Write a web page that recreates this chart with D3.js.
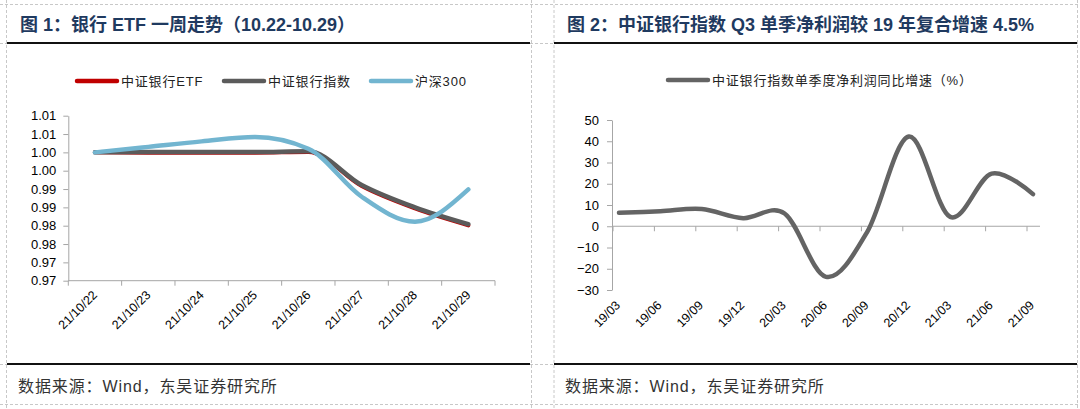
<!DOCTYPE html>
<html>
<head>
<meta charset="utf-8">
<script src="https://cdn.jsdelivr.net/npm/d3@7"></script>
<style>
body { margin: 0; background: #fff; }
text { font-family: "Liberation Sans", Arial, "Noto Sans CJK SC", sans-serif; }
</style>
</head>
<body>
<div id="graph"></div>
<script>
const w = 1080;
const h = 409;

// left chart data
const dates1 = ["21/10/22", "21/10/23", "21/10/24", "21/10/25", "21/10/26", "21/10/27", "21/10/28", "21/10/29"];
const etfValues = [1.0000, 0.9999, 0.9999, 0.9999, 1.0001, 0.9908, 0.9847, 0.9801];
const indexValues = [1.0000, 1.0001, 1.0001, 1.0001, 1.0003, 0.9911, 0.9850, 0.9804];
const hs300Values = [1.0000, 1.0015, 1.0030, 1.0042, 1.0010, 0.9879, 0.9811, 0.9899];
const yTicks1 = [1.010, 1.005, 1.000, 0.995, 0.990, 0.985, 0.980, 0.975, 0.970, 0.965];
const legend1 = ["中证银行ETF", "中证银行指数", "沪深300"];

// right chart data
const quarters = ["19/03", "19/06", "19/09", "19/12", "20/03", "20/06", "20/09", "20/12", "21/03", "21/06", "21/09"];
const profitGrowth = [6.3, 7.1, 8.1, 3.8, 6.0, -23.8, -2.5, 42.2, 4.4, 24.8, 15.1];
const yTicks2 = [50, 40, 30, 20, 10, 0, -10, -20, -30];
const legend2 = "中证银行指数单季度净利润同比增速（%）";

const titles = ["图 1：银行 ETF 一周走势（10.22-10.29）", "图 2：中证银行指数 Q3 单季净利润较 19 年复合增速 4.5%"];
const source = "数据来源：Wind，东吴证券研究所";

const axisColor = "#a6a6a6";

const svg = d3.select("#graph")
    .append("svg")
    .attr("width", w)
    .attr("height", h);

// dashed table grid
const gridH = [4, 43, 364, 404];
const gridV = [6, 531, 553.5, 1077];
gridH.forEach(function(y) {
    svg.append("line")
        .attr("x1", 0).attr("x2", w)
        .attr("y1", y + 0.5).attr("y2", y + 0.5)
        .style("stroke", "#c8c8c8")
        .style("stroke-dasharray", "3,2");
});
gridV.forEach(function(x) {
    svg.append("line")
        .attr("x1", x + 0.5).attr("x2", x + 0.5)
        .attr("y1", 0).attr("y2", h)
        .style("stroke", "#c8c8c8")
        .style("stroke-dasharray", "3,2");
});

// panel frames: title, thick rules, source
const panels = [{x0: 7, x1: 530, tx: 20}, {x0: 554, x1: 1077, tx: 567}];
panels.forEach(function(p, i) {
    svg.append("text")
        .attr("x", p.tx)
        .attr("y", 31)
        .style("font-size", "18px")
        .style("font-weight", "bold")
        .style("fill", "#1f3a60")
        .text(titles[i]);
    [43, 364].forEach(function(y) {
        svg.append("line")
            .attr("x1", p.x0).attr("x2", p.x1)
            .attr("y1", y).attr("y2", y)
            .style("stroke", "#111")
            .style("stroke-width", 2.2);
    });
    svg.append("text")
        .attr("x", p.tx - 2)
        .attr("y", 392)
        .style("font-size", "16px")
        .style("letter-spacing", "0.9px")
        .style("fill", "#333")
        .text(source);
});

// ---------- left chart ----------
const x1 = d3.scaleBand()
    .domain(dates1)
    .range([68.3, 495]);

const y1 = d3.scaleLinear()
    .domain([0.965, 1.01])
    .range([280.7, 115.7]);

// excel style rounding (half up)
const fmt1 = function(d) { return (Math.round(d * 100 + 1e-6) / 100).toFixed(2); };

svg.append("g")
    .attr("transform", "translate(68.3,0)")
    .call(d3.axisLeft(y1).tickValues(yTicks1).tickFormat(fmt1).tickSize(5).tickSizeOuter(0).tickPadding(7));

const gx1 = svg.append("g");
gx1.append("line")
    .attr("x1", x1.range()[0]).attr("x2", x1.range()[1])
    .attr("y1", y1(0.965)).attr("y2", y1(0.965))
    .style("stroke", axisColor);
gx1.selectAll(".tk")
    .data(dates1.concat(["end"]))
    .enter()
    .append("line")
    .attr("x1", function(d) { return d === "end" ? x1.range()[1] : x1(d); })
    .attr("x2", function(d) { return d === "end" ? x1.range()[1] : x1(d); })
    .attr("y1", y1(0.965))
    .attr("y2", y1(0.965) + 5)
    .style("stroke", axisColor);
gx1.selectAll(".lbl")
    .data(dates1)
    .enter()
    .append("text")
    .attr("transform", function(d) {
        return "translate(" + (x1(d) + x1.bandwidth() / 2 + 3) + "," + (y1(0.965) + 15) + ") rotate(-45)";
    })
    .style("text-anchor", "end")
    .style("font-size", "12.5px")
    .style("fill", "#000")
    .text(function(d) { return d; });

const line1 = function(values) {
    return d3.line()
        .x(function(d, i) { return x1(dates1[i]) + x1.bandwidth() / 2; })
        .y(function(d) { return y1(d); })
        .curve(d3.curveMonotoneX)(values);
};

const series1 = [
    {values: etfValues, color: "#c00000", width: 4},
    {values: indexValues, color: "#5b5b5b", width: 4.5},
    {values: hs300Values, color: "#72b5d0", width: 4.5}
];
series1.forEach(function(s) {
    svg.append("path")
        .attr("d", line1(s.values))
        .style("fill", "none")
        .style("stroke", s.color)
        .style("stroke-width", s.width)
        .style("stroke-linecap", "round");
});

// legend
const legX = [77, 224, 371];
series1.forEach(function(s, i) {
    svg.append("line")
        .attr("x1", legX[i]).attr("x2", legX[i] + 40)
        .attr("y1", 81).attr("y2", 81)
        .style("stroke", s.color)
        .style("stroke-width", 4.5)
        .style("stroke-linecap", "round");
    svg.append("text")
        .attr("x", legX[i] + 44)
        .attr("y", 85.5)
        .style("font-size", "13px")
        .style("letter-spacing", "0.8px")
        .style("fill", "#222")
        .text(legend1[i]);
});

// ---------- right chart ----------
const x2 = d3.scalePoint()
    .domain(quarters)
    .range([619, 1033]);

const y2 = d3.scaleLinear()
    .domain([-30, 50])
    .range([290, 120]);

svg.append("g")
    .attr("transform", "translate(612,0)")
    .call(d3.axisLeft(y2).tickValues(yTicks2).tickSize(5).tickSizeOuter(0).tickPadding(8));

const gx2 = svg.append("g");
gx2.append("line")
    .attr("x1", 612).attr("x2", 1040)
    .attr("y1", y2(0)).attr("y2", y2(0))
    .style("stroke", axisColor);
gx2.selectAll(".tk")
    .data(quarters)
    .enter()
    .append("line")
    .attr("x1", function(d) { return x2(d) - 6; })
    .attr("x2", function(d) { return x2(d) - 6; })
    .attr("y1", y2(0))
    .attr("y2", y2(0) + 5)
    .style("stroke", axisColor);
gx2.selectAll(".lbl")
    .data(quarters)
    .enter()
    .append("text")
    .attr("transform", function(d) {
        return "translate(" + (x2(d) + 2) + "," + (y2(-30) + 16) + ") rotate(-45)";
    })
    .style("text-anchor", "end")
    .style("font-size", "12.5px")
    .style("fill", "#000")
    .text(function(d) { return d; });

svg.append("path")
    .attr("d", d3.line()
        .x(function(d, i) { return x2(quarters[i]); })
        .y(function(d) { return y2(d); })
        .curve(d3.curveCardinal.tension(0))(profitGrowth))
    .style("fill", "none")
    .style("stroke", "#646464")
    .style("stroke-width", 4.5)
    .style("stroke-linecap", "round");

svg.append("line")
    .attr("x1", 668).attr("x2", 708)
    .attr("y1", 80).attr("y2", 80)
    .style("stroke", "#646464")
    .style("stroke-width", 4.5)
    .style("stroke-linecap", "round");
svg.append("text")
    .attr("x", 712)
    .attr("y", 84.5)
    .style("font-size", "13px")
    .style("letter-spacing", "0.8px")
    .style("fill", "#222")
    .text(legend2);

// axis styling
svg.selectAll(".domain, .tick line").style("stroke", axisColor);
svg.selectAll(".tick text")
    .style("font-size", "13px")
    .style("fill", "#000")
    .style("font-family", "'Liberation Sans', Arial, sans-serif");
</script>
</body>
</html>
